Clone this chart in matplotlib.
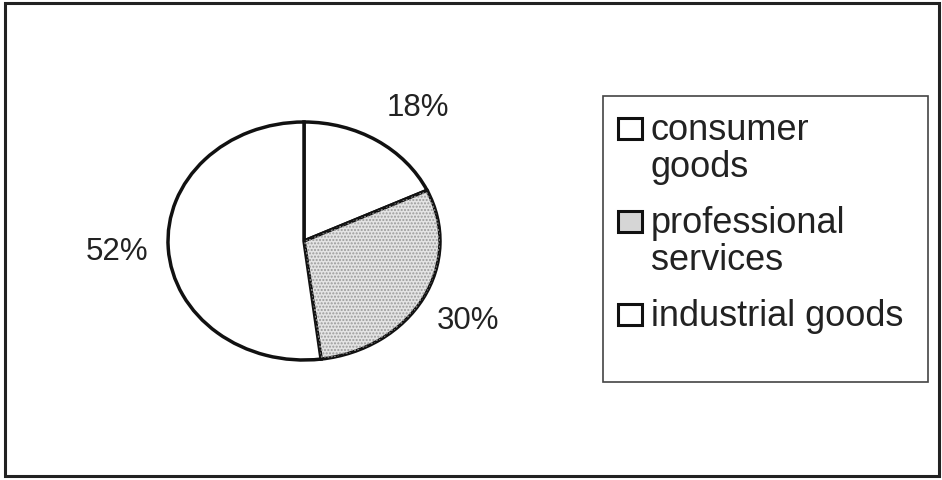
import matplotlib.pyplot as plt
from matplotlib.patches import Rectangle, Wedge

plt.rcParams['font.family'] = ['Liberation Sans', 'DejaVu Sans']

# data
sectors = ['consumer\ngoods', 'professional\nservices', 'industrial goods']
shares = [18, 30, 52]
fills = ['white', '#e4e4e4', 'white']

W, H = 942, 481
fig = plt.figure(figsize=(W / 100, H / 100), dpi=100)

# outer frame around the whole chart
fig.patches.append(Rectangle((5 / W, 4 / H), 934 / W, 473 / H, transform=fig.transFigure,
                             fill=False, edgecolor='#222222', linewidth=2.2))

# pie is slightly squashed in the reference, so the axes aspect is left free
ax = fig.add_axes([168 / W, (H - 361) / H, 272 / W, 238 / H])
wedges, texts, autotexts = ax.pie(shares, colors=fills, startangle=90, counterclock=False,
                                  autopct='%.0f%%', pctdistance=1.38,
                                  wedgeprops=dict(edgecolor='#111111', linewidth=2.5),
                                  textprops=dict(fontsize=22.5, color='#222222'))
ax.set_aspect('auto')
ax.set_xlim(-1, 1)
ax.set_ylim(-1, 1)
for t in autotexts:
    t.set_clip_on(False)
# the 18% label sits a little further out to the right
autotexts[0].set_position((0.84, 1.13))

# dotted texture on the professional services slice
w = wedges[1]
ax.add_patch(Wedge(w.center, w.r, w.theta1, w.theta2, facecolor='none',
                   edgecolor='#9a9a9a', linewidth=0, hatch='.....'))

# legend box, drawn by hand to keep the empty space of the original
fig.patches.append(Rectangle((603 / W, (H - 383) / H), 325 / W, 286 / H, transform=fig.transFigure,
                             fill=False, edgecolor='#444444', linewidth=1.2))
y = 140  # baseline of the first line, pixels from top
for label, col in zip(sectors, fills):
    fig.patches.append(Rectangle((618 / W, (H - y) / H), 24 / W, 21 / H,
                                 transform=fig.transFigure,
                                 facecolor='#d6d6d6' if col != 'white' else col,
                                 edgecolor='#111111', linewidth=2.2))
    lines = label.split('\n')
    for i, line in enumerate(lines):
        fig.text(651 / W, (H - y - 37 * i) / H, line, fontsize=26, color='#222222',
                 va='baseline', ha='left', transform=fig.transFigure)
    y += 37 * (len(lines) - 1) + 56

fig.savefig('out.png', dpi=100, facecolor='white')
